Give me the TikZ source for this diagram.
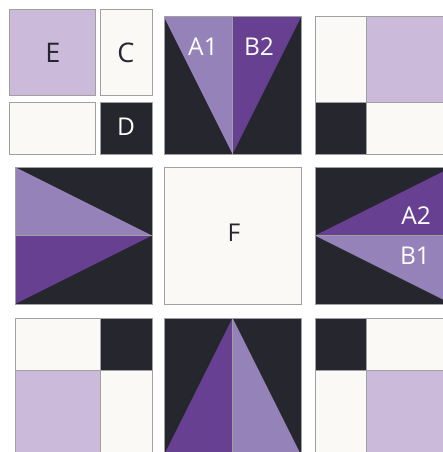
\documentclass[tikz,border=0pt]{standalone}
\usepackage{fontspec}
\setmainfont{Open Sans}
\usetikzlibrary{positioning}
\definecolor{QuiltDark}{RGB}{38,39,46}
\definecolor{QuiltLilac}{RGB}{203,186,218}
\definecolor{QuiltMauve}{RGB}{148,130,184}
\definecolor{QuiltPlum}{RGB}{103,64,146}
\definecolor{QuiltCream}{RGB}{250,249,245}
\definecolor{SeamGray}{RGB}{160,160,163}
\begin{document}
\begin{tikzpicture}[x=1pt,y=-1pt,font=\fontsize{24.5}{24.5}\selectfont,
  seam/.style={draw=SeamGray,line width=1pt},
  darklbl/.style={text=QuiltDark,inner sep=0pt},
  lightlbl/.style={text=white,inner sep=0pt},
  biglbl/.style={font=\fontsize{27}{27}\selectfont}]
\fill[white] (0,0) rectangle (443,452);
\useasboundingbox (0,0) rectangle (443,452);
\clip (0,0) rectangle (443,452);
\filldraw[fill=QuiltLilac,seam] (9.5,10) rectangle (95,95.5);
\filldraw[fill=QuiltCream,seam] (100.5,10) rectangle (152,95.5);
\filldraw[fill=QuiltCream,seam] (9.5,102.5) rectangle (95,154);
\filldraw[fill=QuiltDark,seam] (100.5,102.5) rectangle (152,154);
\node[darklbl,biglbl] (labE) at (53,53) {E};
\node[darklbl,biglbl] (labC) at (126,53) {C};
\node[lightlbl] (labD) at (126,127) {D};
\fill[QuiltDark] (164,17) rectangle (301,154);
\fill[QuiltMauve] (164,17) -- (232.5,17) -- (232.5,154) -- cycle;
\fill[QuiltPlum] (232.5,17) -- (301,17) -- (232.5,154) -- cycle;
\draw[seam] (164,17) rectangle (301,154) (232.5,17) -- (232.5,154);
\node[lightlbl] (labAone) at (203,47) {A1};
\node[lightlbl] (labBtwo) at (259,47) {B2};
\fill[QuiltCream] (315,17) rectangle (366,102);
\fill[QuiltLilac] (366,17) rectangle (452,102);
\fill[QuiltDark] (315,102) rectangle (366,154);
\fill[QuiltCream] (366,102) rectangle (452,154);
\draw[seam] (315,17) rectangle (452,154) (366,17) -- (366,154) (315,102) -- (452,102);
\fill[QuiltDark] (15,167) rectangle (152,304);
\fill[QuiltMauve] (15,167) -- (152,235.5) -- (15,235.5) -- cycle;
\fill[QuiltPlum] (15,235.5) -- (152,235.5) -- (15,304) -- cycle;
\draw[seam] (15,167) rectangle (152,304) (15,235.5) -- (152,235.5);
\filldraw[fill=QuiltCream,seam] (164,167) rectangle (301,304);
\node[darklbl] (labF) at (234,233) {F};
\fill[QuiltDark] (315,167) rectangle (452,304);
\fill[QuiltPlum] (315,235.5) -- (452,167) -- (452,235.5) -- cycle;
\fill[QuiltMauve] (315,235.5) -- (452,235.5) -- (452,304) -- cycle;
\draw[seam] (315,167) rectangle (452,304) (315,235.5) -- (452,235.5);
\node[lightlbl] (labAtwo) at (416,216) {A2};
\node[lightlbl] (labBone) at (415,256) {B1};
\fill[QuiltCream] (15,318) rectangle (100,370);
\fill[QuiltDark] (100,318) rectangle (152,370);
\fill[QuiltLilac] (15,370) rectangle (100,455);
\fill[QuiltCream] (100,370) rectangle (152,455);
\draw[seam] (15,318) rectangle (152,455) (100,318) -- (100,455) (15,370) -- (152,370);
\fill[QuiltDark] (164,318) rectangle (301,455);
\fill[QuiltPlum] (232.5,318) -- (232.5,455) -- (164,455) -- cycle;
\fill[QuiltMauve] (232.5,318) -- (301,455) -- (232.5,455) -- cycle;
\draw[seam] (164,318) rectangle (301,455) (232.5,318) -- (232.5,455);
\fill[QuiltDark] (315,318) rectangle (366,370);
\fill[QuiltCream] (366,318) rectangle (452,370);
\fill[QuiltCream] (315,370) rectangle (366,455);
\fill[QuiltLilac] (366,370) rectangle (452,455);
\draw[seam] (315,318) rectangle (452,455) (366,318) -- (366,455) (315,370) -- (452,370);
\end{tikzpicture}
\end{document}
